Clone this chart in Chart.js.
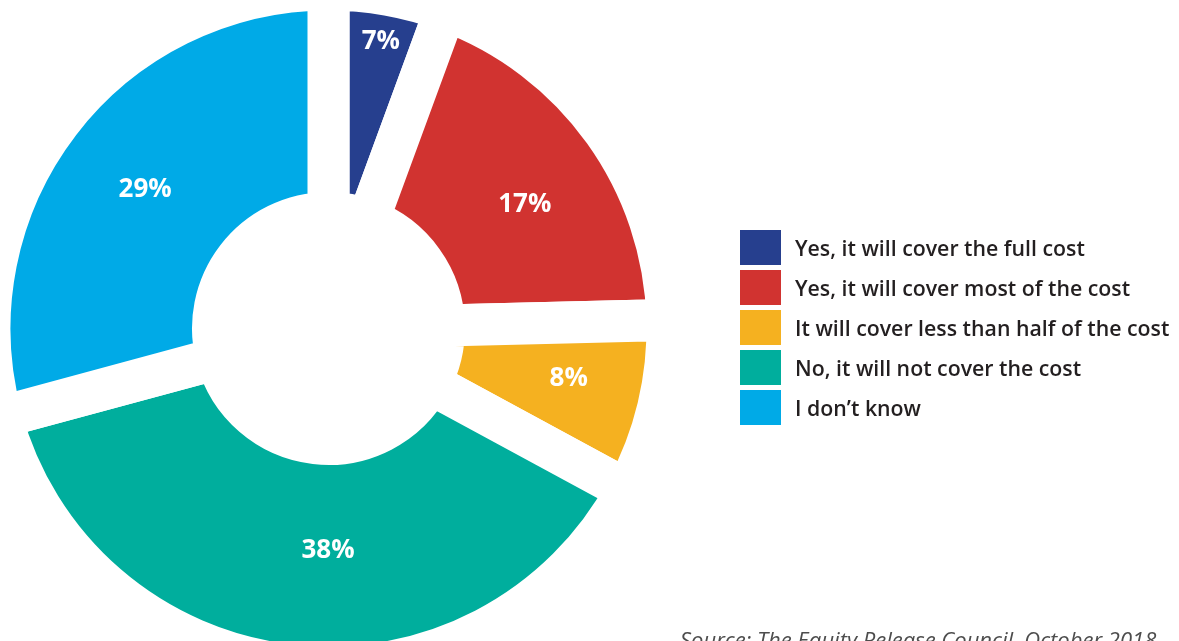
<!DOCTYPE html>
<html>
<head>
<meta charset="utf-8">
<script src="https://cdn.jsdelivr.net/npm/chart.js@4/dist/chart.umd.min.js"></script>
<style>
    html, body { margin: 0; padding: 0; background: #fff; }
    body { width: 1179px; height: 641px; position: relative; overflow: hidden; font-family: 'Open Sans', sans-serif; }
    #chart { position: absolute; left: 0; top: 0; }
    #legend { position: absolute; left: 740px; top: 230px; }
    .legend-item { display: flex; align-items: center; height: 35px; margin-bottom: 5px; }
    .legend-color { width: 41px; height: 35px; margin-right: 14px; }
    .legend-text { font-size: 21.3px; font-weight: 600; color: #231f20; white-space: nowrap; }
    #source { position: absolute; left: 680px; top: 628px; font-size: 22px; line-height: 22px; font-style: italic; color: #4d4d4d; white-space: nowrap; }
</style>
</head>
<body>
<canvas id="chart" width="1179" height="641"></canvas>
<div id="legend"></div>
<div id="source">Source: The Equity Release Council, October 2018</div>
<script>
const categories = [
    'Yes, it will cover the full cost',
    'Yes, it will cover most of the cost',
    'It will cover less than half of the cost',
    'No, it will not cover the cost',
    'I don\u2019t know'
];
// slice sizes as drawn in the picture (share of the circle)
const sliceShares = [5.6, 19.0, 8.3, 37.9, 29.2];
// percentages printed on the slices
const printedPct = [7, 17, 8, 38, 29];
const colors = ['#263f8e', '#d13330', '#f5b120', '#00ae9d', '#00aae7'];

// where each printed label sits: fraction along the slice, distance from centre
const labelSpots = [
    { t: 0.51, r: 293 },
    { t: 0.544, r: 233 },
    { t: 0.43, r: 245 },
    { t: 0.452, r: 220 },
    { t: 0.5, r: 231 }
];

const sliceLabels = {
    id: 'sliceLabels',
    afterDatasetsDraw(chart) {
        const ctx = chart.ctx;
        const meta = chart.getDatasetMeta(0);
        const size = 26;
        ctx.save();
        ctx.fillStyle = '#fff';
        ctx.font = `bold ${size}px "Open Sans"`;
        ctx.textAlign = 'center';
        ctx.textBaseline = 'alphabetic';
        meta.data.forEach((arc, i) => {
            const p = arc.getProps(['x', 'y', 'startAngle', 'endAngle'], true);
            const a = p.startAngle + (p.endAngle - p.startAngle) * labelSpots[i].t;
            const x = p.x + Math.cos(a) * labelSpots[i].r;
            const y = p.y + Math.sin(a) * labelSpots[i].r;
            ctx.fillText(printedPct[i] + '%', x, y + size * 0.357);
        });
        ctx.restore();
    }
};

// the wide white border makes the even gaps between slices
new Chart(document.getElementById('chart'), {
    type: 'doughnut',
    data: {
        labels: categories,
        datasets: [{
            data: sliceShares,
            backgroundColor: colors,
            hoverBackgroundColor: colors,
            borderColor: '#fff',
            hoverBorderColor: '#fff',
            borderWidth: 42,
            hoverBorderWidth: 42,
            borderAlign: 'center'
        }]
    },
    options: {
        responsive: false,
        animation: false,
        radius: 339,
        cutout: '34.07%',
        layout: { padding: { left: 0, right: 522, top: 16, bottom: 0 } },
        plugins: {
            legend: { display: false },
            tooltip: { enabled: false }
        }
    },
    plugins: [sliceLabels]
});

const legend = document.getElementById('legend');
categories.forEach((label, i) => {
    const item = document.createElement('div');
    item.classList.add('legend-item');
    item.innerHTML = `
            <span class="legend-color" style="background:${colors[i]}"></span>
            <span class="legend-text">${label}</span>
        `;
    legend.appendChild(item);
});
</script>
</body>
</html>
